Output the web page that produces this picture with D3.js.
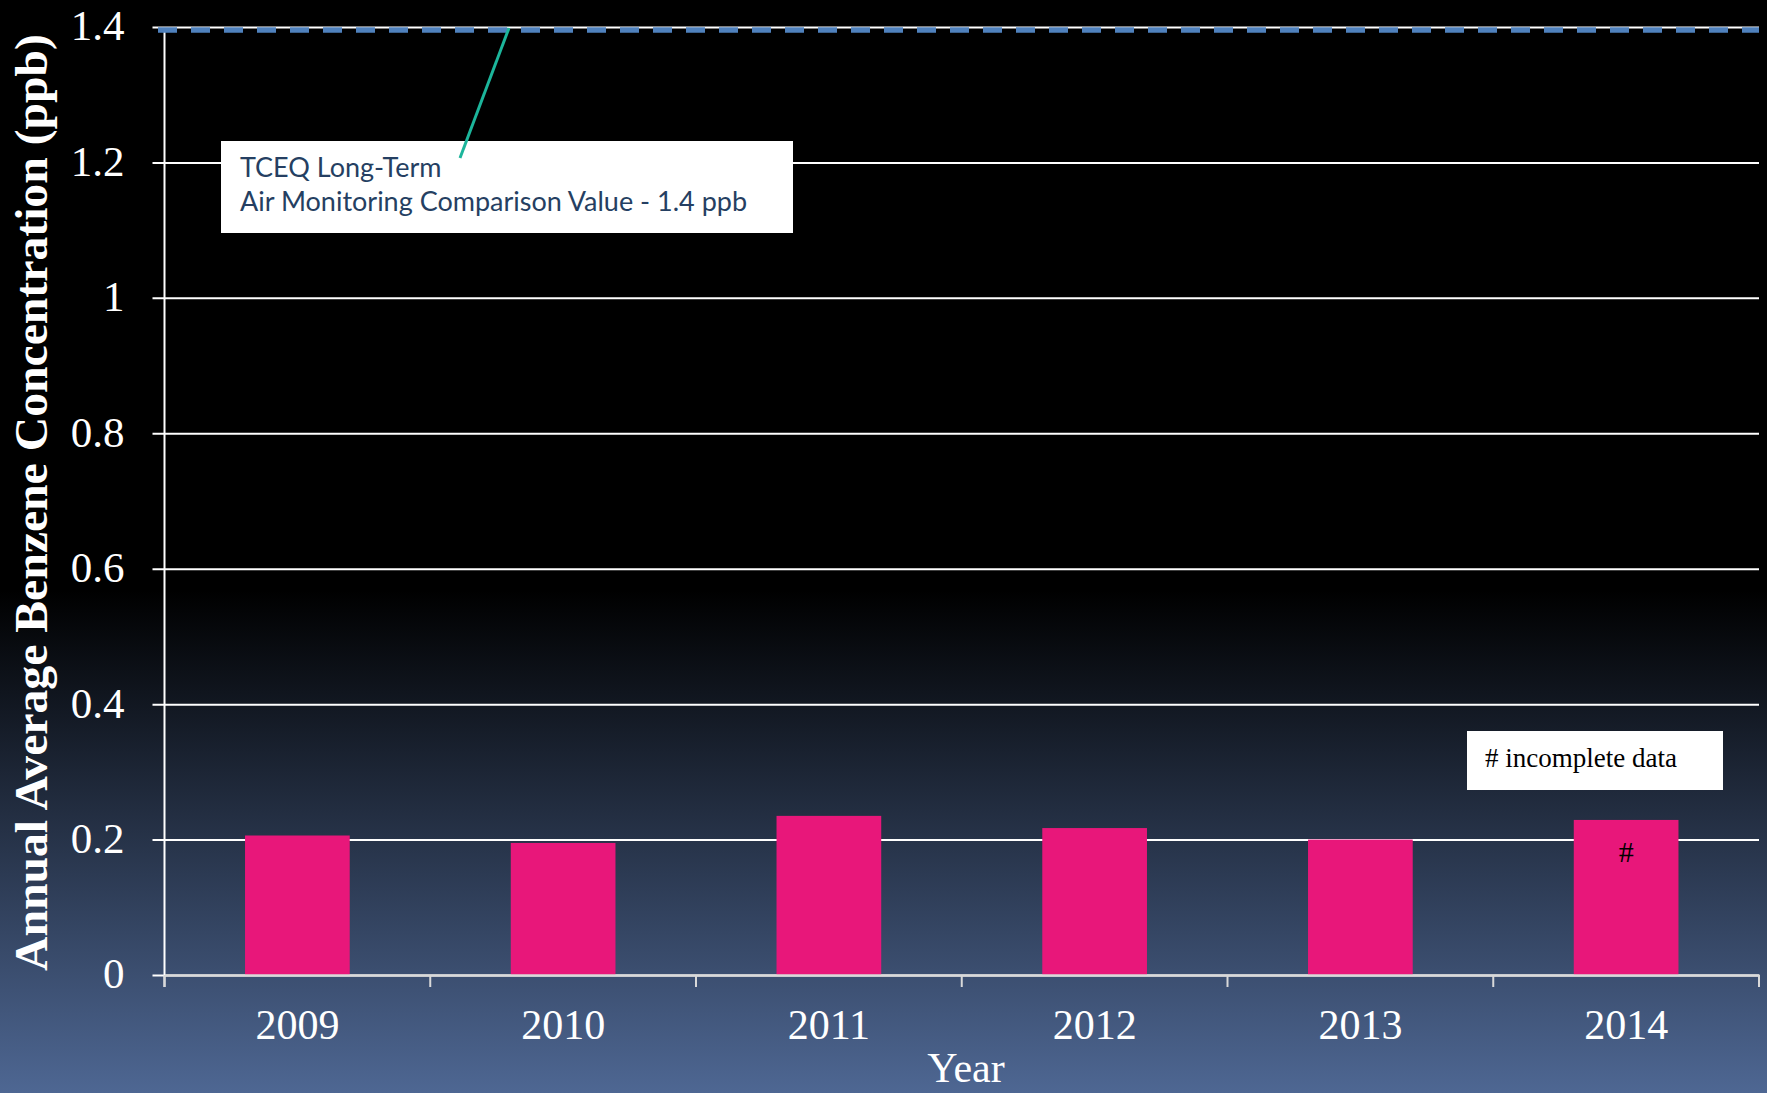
<!DOCTYPE html>
<html lang="en">

<head>
    <meta charset="UTF-8">
    <title>Annual Average Benzene Concentration</title>
    <style>
        body {
            margin: 0;
            overflow: hidden;
            background: #000;
        }
    </style>
</head>

<body>
    <script src="https://d3js.org/d3.v7.min.js"></script>
    <script>
        const years = ['2009', '2010', '2011', '2012', '2013', '2014']
        const benzene = [0.206, 0.195, 0.235, 0.217, 0.200, 0.229]
        const incomplete = ['2014']
        const yTicks = [0, 0.2, 0.4, 0.6, 0.8, 1, 1.2, 1.4]
        const amcv = 1.4

        const width = 1767
        const height = 1093
        const plotLeft = 164.5
        const plotRight = 1759
        const plotTop = 27
        const plotBottom = 975

        const svg = d3.select('body')
            .append('svg')
            .attr('width', width)
            .attr('height', height)

        // background gradient, black fading to slate blue at the bottom
        const grad = svg.append('defs')
            .append('linearGradient')
            .attr('id', 'bg')
            .attr('x1', 0).attr('y1', 0)
            .attr('x2', 0).attr('y2', 1)
        grad.append('stop').attr('offset', '0%').attr('stop-color', '#000')
        grad.append('stop').attr('offset', '54%').attr('stop-color', '#000')
        grad.append('stop').attr('offset', '100%').attr('stop-color', '#4e6793')

        svg.append('rect')
            .attr('width', width)
            .attr('height', height)
            .attr('fill', 'url(#bg)')

        const x = d3.scaleBand()
            .domain(years)
            .range([plotLeft, plotRight])
            .paddingInner(0.606)
            .paddingOuter(0.303)

        const y = d3.scaleLinear()
            .domain([0, 1.4])
            .range([plotBottom, plotTop])

        // grid lines + y labels
        const yAxis = svg.append('g')
            .attr('transform', `translate(${plotLeft},0)`)
            .call(d3.axisLeft(y)
                .tickValues(yTicks)
                .tickSize(-(plotRight - plotLeft))
                .tickPadding(40)
                .tickFormat(d => d3.format('~g')(d)))
        yAxis.select('.domain').remove()
        yAxis.selectAll('.tick line')
            .attr('x1', -12)
            .attr('stroke', '#fff')
            .attr('stroke-width', 2)
        yAxis.selectAll('.tick text')
            .attr('fill', '#fff')
            .attr('font-family', '"Liberation Serif", serif')
            .attr('font-size', 43)
            .attr('dy', '0.3em')

        // y axis line
        svg.append('line')
            .attr('x1', plotLeft).attr('x2', plotLeft)
            .attr('y1', plotTop).attr('y2', plotBottom + 12)
            .attr('stroke', '#fff')
            .attr('stroke-width', 2)

        // comparison value dashed line
        svg.append('line')
            .attr('x1', 158).attr('x2', plotRight)
            .attr('y1', y(amcv) + 3).attr('y2', y(amcv) + 3)
            .attr('stroke', '#4f81bd')
            .attr('stroke-width', 5.5)
            .attr('stroke-dasharray', '19,14')

        // bars
        svg.append('g')
            .selectAll('rect')
            .data(years)
            .join('rect')
            .attr('x', d => x(d))
            .attr('y', (d, i) => y(benzene[i]))
            .attr('width', x.bandwidth())
            .attr('height', (d, i) => plotBottom - y(benzene[i]))
            .attr('fill', '#e8177a')

        svg.append('g')
            .selectAll('text')
            .data(incomplete)
            .join('text')
            .attr('x', d => x(d) + x.bandwidth() / 2)
            .attr('y', d => y(benzene[years.indexOf(d)]) + 42)
            .attr('text-anchor', 'middle')
            .attr('font-family', '"Liberation Serif", serif')
            .attr('font-size', 30)
            .attr('fill', '#000')
            .text('#')

        // x axis
        const xAxis = svg.append('g')
            .attr('transform', `translate(0,${plotBottom})`)
            .call(d3.axisBottom(x).tickSize(0).tickPadding(34))
        xAxis.select('.domain')
            .attr('stroke', '#d9d9d9')
            .attr('stroke-width', 2.5)
        xAxis.selectAll('.tick text')
            .attr('fill', '#fff')
            .attr('font-family', '"Liberation Serif", serif')
            .attr('font-size', 42)
        const edges = [plotLeft].concat(years.map(d => x(d) + x.bandwidth() / 2 + x.step() / 2))
        xAxis.selectAll('.edge')
            .data(edges)
            .join('line')
            .attr('class', 'edge')
            .attr('x1', d => d).attr('x2', d => d)
            .attr('y1', 0).attr('y2', 12)
            .attr('stroke', '#d9d9d9')
            .attr('stroke-width', 2)

        // axis titles
        svg.append('text')
            .attr('x', 966)
            .attr('y', 1082)
            .attr('text-anchor', 'middle')
            .attr('font-family', '"Liberation Serif", serif')
            .attr('font-size', 42)
            .attr('fill', '#fff')
            .text('Year')

        svg.append('text')
            .attr('transform', `translate(47,${(34 + 971) / 2}) rotate(-90)`)
            .attr('text-anchor', 'middle')
            .attr('font-family', '"Liberation Serif", serif')
            .attr('font-weight', 'bold')
            .attr('font-size', 46)
            .attr('textLength', 937)
            .attr('lengthAdjust', 'spacingAndGlyphs')
            .attr('fill', '#fff')
            .text('Annual Average Benzene Concentration (ppb)')

        // callout box and leader
        svg.append('rect')
            .attr('x', 221).attr('y', 141)
            .attr('width', 572).attr('height', 92)
            .attr('fill', '#fff')

        svg.append('line')
            .attr('x1', 509).attr('y1', y(amcv) + 1)
            .attr('x2', 460).attr('y2', 158)
            .attr('stroke', '#1cb59b')
            .attr('stroke-width', 3)

        const note = svg.append('text')
            .attr('font-family', 'Lato, sans-serif')
            .attr('font-size', 27)
            .attr('fill', '#253f62')
        note.append('tspan').attr('x', 240).attr('y', 177).text('TCEQ Long-Term')
        note.append('tspan').attr('x', 240).attr('y', 211).text('Air Monitoring Comparison Value - 1.4 ppb')

        // legend note
        svg.append('rect')
            .attr('x', 1467).attr('y', 731)
            .attr('width', 256).attr('height', 59)
            .attr('fill', '#fff')
        svg.append('text')
            .attr('x', 1485).attr('y', 767)
            .attr('font-family', '"Liberation Serif", serif')
            .attr('font-size', 27)
            .attr('fill', '#000')
            .text('# incomplete data')
    </script>
</body>

</html>
